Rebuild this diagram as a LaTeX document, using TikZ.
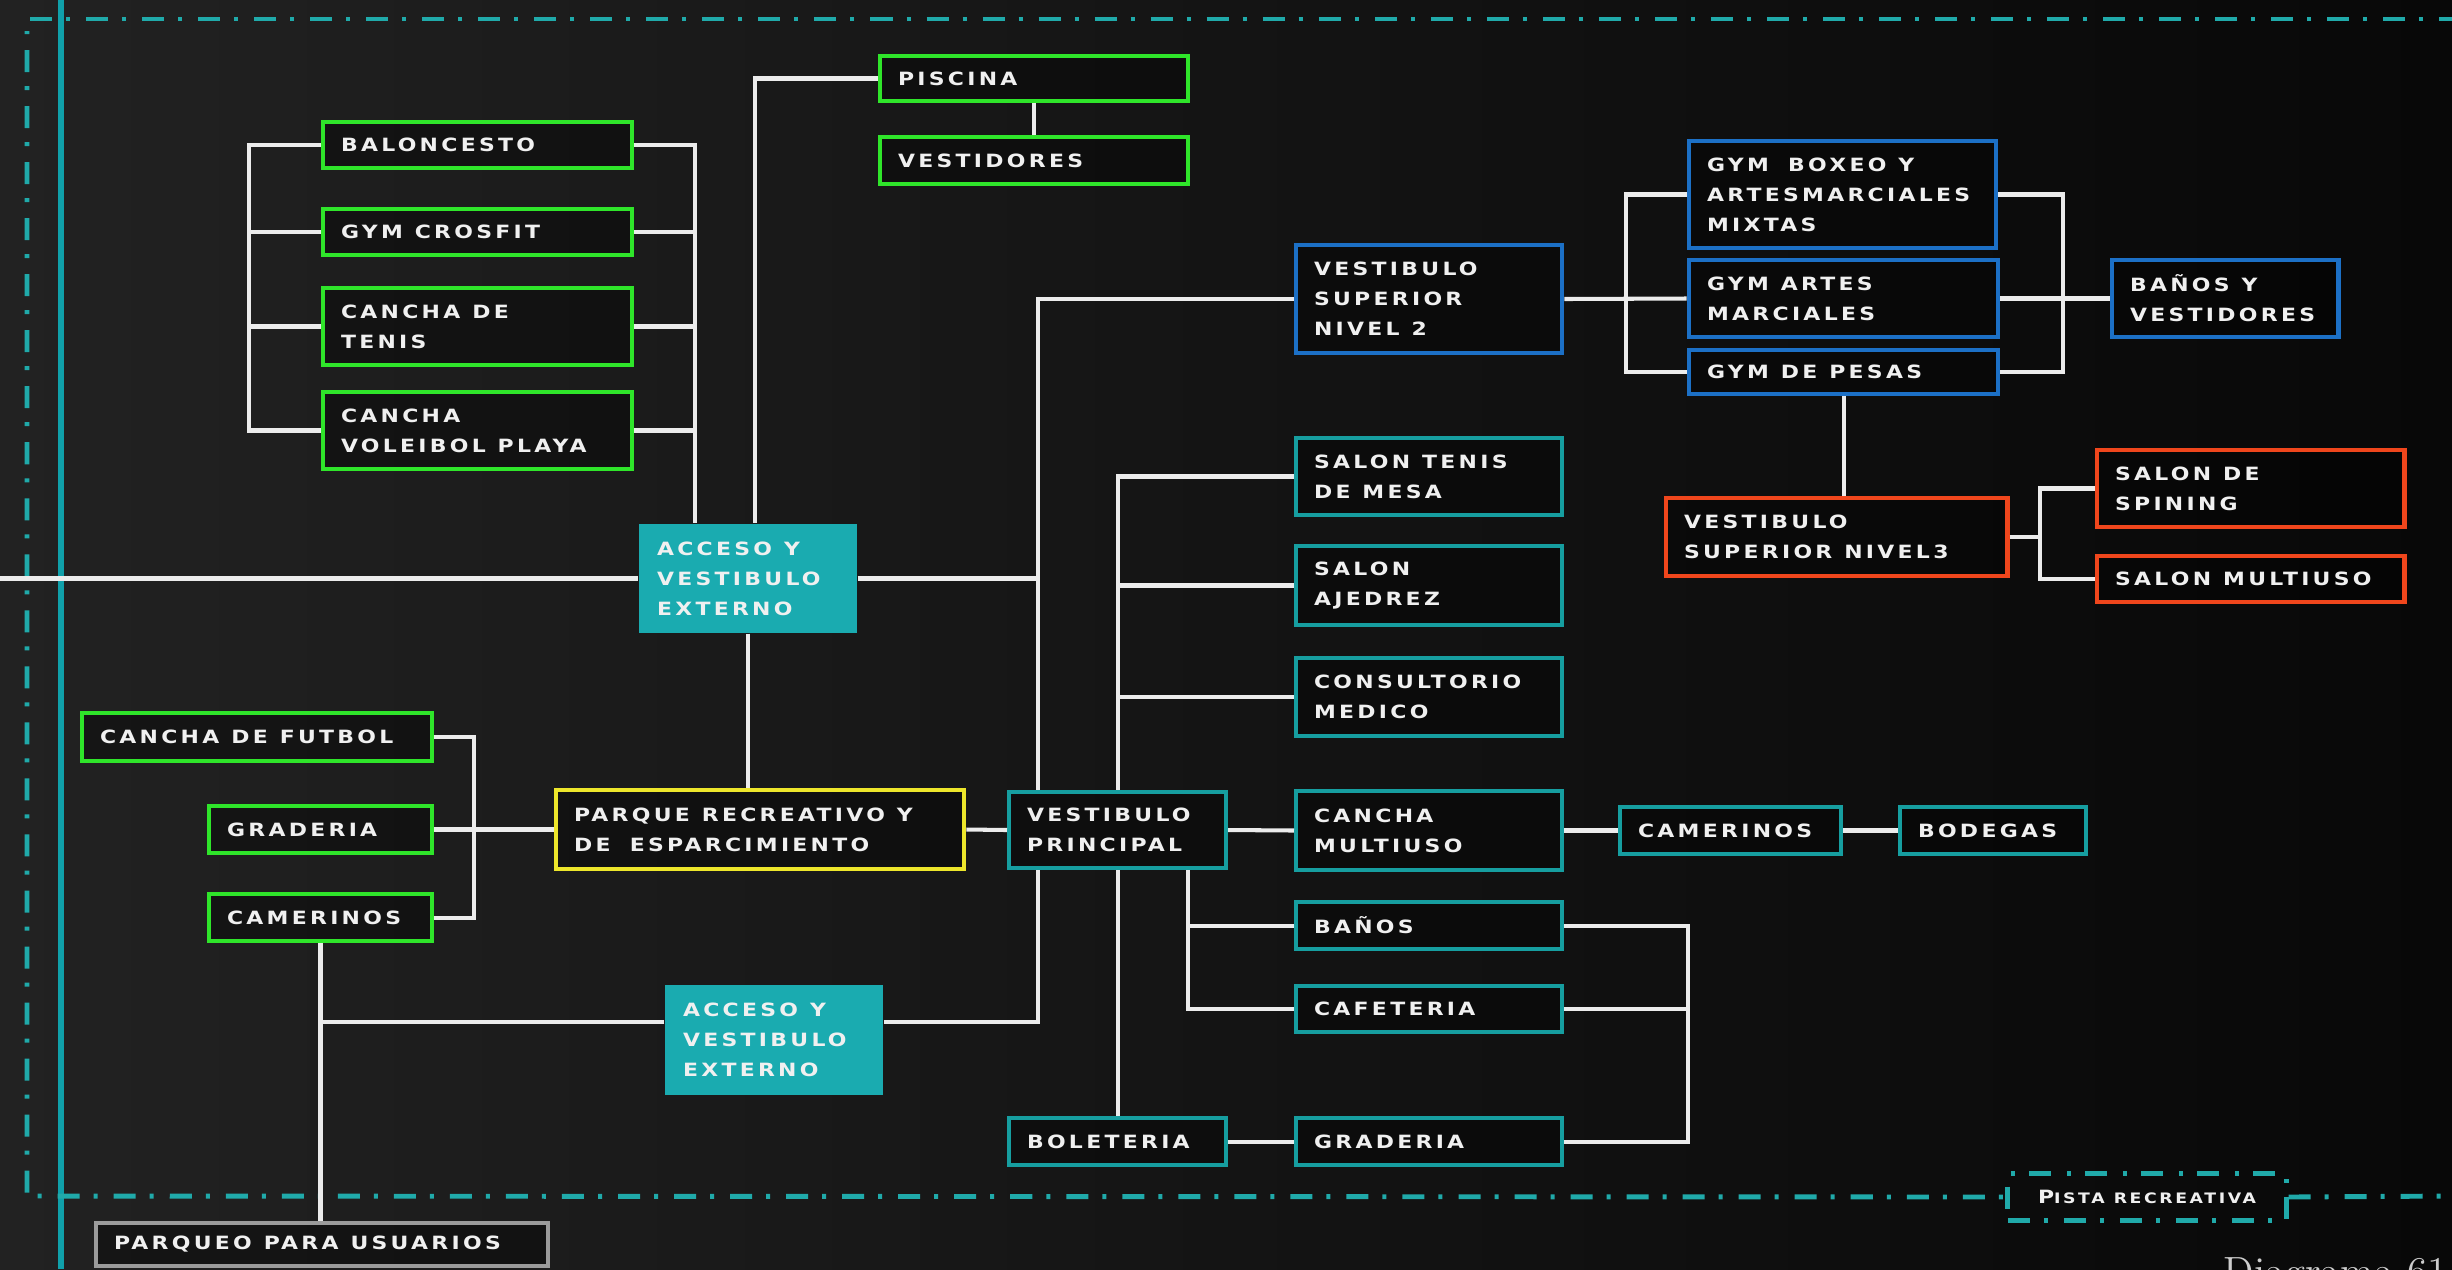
\documentclass[tikz,border=0pt]{standalone}
\usepackage{fontspec}
\newfontfamily\bxfont{DejaVu Sans}[LetterSpace=18,FakeStretch=1.2]
\usetikzlibrary{calc}
\definecolor{cgreen}{RGB}{47,229,42}
\definecolor{cteal}{RGB}{22,158,160}
\definecolor{cfill}{RGB}{26,171,176}
\definecolor{cblue}{RGB}{28,112,198}
\definecolor{corange}{RGB}{240,70,28}
\definecolor{cyellow}{RGB}{237,230,43}
\definecolor{cgray}{RGB}{155,155,155}
\definecolor{cline}{RGB}{236,236,236}
\definecolor{ctext}{RGB}{240,240,240}
\definecolor{cdash}{RGB}{32,170,170}
\definecolor{cvline}{RGB}{16,160,170}
\definecolor{cdiag}{RGB}{205,205,205}
\definecolor{bgl}{RGB}{34,34,34}
\definecolor{bgm}{RGB}{20,20,20}
\definecolor{bgr}{RGB}{8,8,8}
\newcommand\bxsetup{\bxfont\bfseries\fontsize{5.2pt}{8.5pt}\selectfont}
\newcommand\pisetup{\bxfont\bfseries\fontsize{4.1pt}{6pt}\selectfont}
\tikzset{
  boxbase/.style={rectangle, fill=black, fill opacity=0.35, text opacity=1,
    align=left, inner xsep=0.18cm, inner ysep=0pt, text=ctext,
    font=\bxsetup, execute at begin node={\spaceskip=3.4pt\relax}},
  gbox/.style={boxbase, draw=cgreen, line width=1.4pt},
  tbox/.style={boxbase, draw=cteal, line width=1.15pt},
  fbox/.style={boxbase, draw=none, fill=cfill, fill opacity=1},
  bbox/.style={boxbase, draw=cblue, line width=1.4pt},
  obox/.style={boxbase, draw=corange, line width=1.4pt},
  ybox/.style={boxbase, draw=cyellow, line width=1.3pt},
  pbox/.style={boxbase, draw=cgray, line width=1.3pt},
  conn/.style={draw=cline, line width=1.15pt},
  dashdot border/.style={draw=cdash, line width=1.4pt,
    dash pattern=on 0.22cm off 0.14cm on 0.04cm off 0.16cm},
}
\newcommand\mkbox[7]{%
  \pgfmathsetmacro\bxw{(#4-#2-4)*0.01}%
  \pgfmathsetmacro\bxh{(#5-#3-4)*0.01}%
  \pgfmathsetmacro\bxt{(#4-#2-4)*0.01-0.36}%
  \node[#6, minimum width=\bxw cm, minimum height=\bxh cm, text width=\bxt cm]
    (#1) at ({(#2+#4)/2},{(#3+#5)/2}) {#7};}
\begin{document}
\begin{tikzpicture}[x=0.01cm,y=-0.01cm]
\useasboundingbox (0,0) rectangle (2452,1269);
\shade[left color=bgl, right color=bgr, middle color=bgm] (0,0) rectangle (2452,1269);

% frame
\draw[cvline, line width=1.5pt] (61,0) -- (61,1269);

% green cluster
\mkbox{bal}{321}{120}{634}{170}{gbox}{BALONCESTO}
\mkbox{cros}{321}{207}{634}{257}{gbox}{GYM CROSFIT}
\mkbox{ten}{321}{286}{634}{367}{gbox}{CANCHA DE\\TENIS}
\mkbox{vol}{321}{390}{634}{471}{gbox}{CANCHA\\VOLEIBOL PLAYA}
\mkbox{pis}{878}{54}{1190}{103}{gbox}{PISCINA}
\mkbox{vesd}{878}{135}{1190}{186}{gbox}{VESTIDORES}
\mkbox{acc1}{637}{522}{859}{635}{fbox}{ACCESO Y\\VESTIBULO\\EXTERNO}
\mkbox{fut}{80}{711}{434}{763}{gbox}{CANCHA DE FUTBOL}
\mkbox{gra1}{207}{804}{434}{855}{gbox}{GRADERIA}
\mkbox{cam1}{207}{892}{434}{943}{gbox}{CAMERINOS}
\mkbox{park}{554}{788}{966}{871}{ybox}{PARQUE RECREATIVO Y\\DE\hspace{5.5pt}ESPARCIMIENTO}
\mkbox{acc2}{663}{983}{885}{1097}{fbox}{ACCESO Y\\VESTIBULO\\EXTERNO}
\mkbox{parq}{94}{1221}{550}{1268}{pbox}{PARQUEO PARA USUARIOS}
% teal
\mkbox{vp}{1007}{790}{1228}{870}{tbox}{VESTIBULO\\PRINCIPAL}
\mkbox{sal1}{1294}{436}{1564}{517}{tbox}{SALON TENIS\\DE MESA}
\mkbox{sal2}{1294}{544}{1564}{627}{tbox}{SALON\\AJEDREZ}
\mkbox{cons}{1294}{656}{1564}{738}{tbox}{CONSULTORIO\\MEDICO}
\mkbox{cm}{1294}{789}{1564}{872}{tbox}{CANCHA\\MULTIUSO}
\mkbox{cam2}{1618}{805}{1843}{856}{tbox}{CAMERINOS}
\mkbox{bod}{1898}{805}{2088}{856}{tbox}{BODEGAS}
\mkbox{ban}{1294}{900}{1564}{951}{tbox}{BAÑOS}
\mkbox{caf}{1294}{984}{1564}{1034}{tbox}{CAFETERIA}
\mkbox{bol}{1007}{1116}{1228}{1167}{tbox}{BOLETERIA}
\mkbox{gr2}{1294}{1116}{1564}{1167}{tbox}{GRADERIA}
% blue
\mkbox{vsn2}{1294}{243}{1564}{355}{bbox}{VESTIBULO\\SUPERIOR\\NIVEL 2}
\mkbox{boxeo}{1687}{139}{1998}{250}{bbox}{GYM\hspace{5.5pt}BOXEO Y\\ARTESMARCIALES\\MIXTAS}
\mkbox{artes}{1687}{258}{2000}{339}{bbox}{GYM ARTES\\MARCIALES}
\mkbox{pesas}{1687}{348}{2000}{396}{bbox}{GYM DE PESAS}
\mkbox{banv}{2110}{258}{2340}{339}{bbox}{BAÑOS Y\\VESTIDORES}
% orange
\mkbox{niv3}{1664}{496}{2009}{578}{obox}{VESTIBULO\\SUPERIOR NIVEL3}
\mkbox{spin}{2095}{448}{2406}{529}{obox}{SALON DE\\SPINING}
\mkbox{mult}{2095}{554}{2406}{604}{obox}{SALON MULTIUSO}

% pista recreativa
\node[dashdot border, rectangle, minimum width=2.78cm, minimum height=0.47cm, inner sep=0pt,
  text=ctext, font=\pisetup, execute at begin node={\spaceskip=2.6pt\relax}] (pista) at (2147,1197)
  {{\fontsize{5.2pt}{6pt}\selectfont P}ISTA RECREATIVA};

\coordinate (frTR) at (2452,19);
\coordinate (frTL) at (30,19);
\coordinate (frL) at (27,31);
\coordinate (frBL) at (27,1196);
\coordinate (frBR) at (2452,1196);
\draw[dashdot border] (frTL) -- (frTR);
\draw[dashdot border, dash phase=0.37cm] (frL) -- (frBL) -- (pista.west);
\draw[dashdot border] (pista.east) -- (frBR);

\node[anchor=north west, inner sep=0pt, text=cdiag, font=\fontsize{11.6pt}{14pt}\selectfont]
  (diag) at (2223,1257) {Diagrama 61};

% bus coordinates
\coordinate (ledge) at (0,0);
\coordinate (lb) at (249,0);
\coordinate (rb) at (695,0);
\coordinate (pc) at (755,0);
\coordinate (v1) at (1038,0);
\coordinate (v2) at (1118,0);
\coordinate (v3) at (1188,0);
\coordinate (fb) at (474,0);
\coordinate (rb2) at (1688,0);
\coordinate (bl) at (1626,0);
\coordinate (br) at (2063,0);
\coordinate (ob) at (2040,0);

% connectors
\draw[conn] (bal.west) -| (lb |- vol.west) -- (vol.west);
\draw[conn] (cros.west) -- (cros.west -| lb);
\draw[conn] (ten.west) -- (ten.west -| lb);
\draw[conn] (bal.east) -| (rb |- acc1.north);
\draw[conn] (cros.east) -- (cros.east -| rb);
\draw[conn] (ten.east) -- (ten.east -| rb);
\draw[conn] (vol.east) -- (vol.east -| rb);
\draw[conn] (pis.west) -| (pc |- acc1.north);
\draw[conn] (pis.south) -- (vesd.north);
\draw[conn] (ledge |- acc1.west) -- (acc1.west);
\draw[conn] (acc1.east) -- (acc1.east -| v1);
\draw[conn] (vsn2.west) -| (v1 |- vp.north);
\draw[conn] (v1 |- vp.south) |- ([yshift=0.18cm]acc2.east);
\draw[conn] (sal1.west) -| (v2 |- vp.north);
\draw[conn] (sal2.west) -- (sal2.west -| v2);
\draw[conn] (cons.west) -- (cons.west -| v2);
\draw[conn] (v2 |- vp.south) -- (v2 |- bol.north);
\draw[conn] (v3 |- vp.south) |- (caf.west);
\draw[conn] (ban.west) -- (ban.west -| v3);
\draw[conn] (vp.east) -- (cm.west);
\draw[conn] (cm.east) -- (cam2.west);
\draw[conn] (cam2.east) -- (bod.west);
\draw[conn] (park.east) -- (vp.west);
\draw[conn] (acc1.south) -- (acc1.south |- park.north);
\draw[conn] (fut.east) -| (fb |- cam1.east) -- (cam1.east);
\draw[conn] (gra1.east) -- (park.west);
\draw[conn] (cam1.south) -- (cam1.south |- parq.north);
\draw[conn] ([yshift=0.18cm]acc2.west) -- ([yshift=0.18cm]acc2.west -| cam1.south);
\draw[conn] (ban.east) -| (rb2 |- gr2.east) -- (gr2.east);
\draw[conn] (caf.east) -- (caf.east -| rb2);
\draw[conn] (bol.east) -- (gr2.west);
\draw[conn] (boxeo.west) -| (bl |- pesas.west) -- (pesas.west);
\draw[conn] (vsn2.east) -- (artes.west);
\draw[conn] (boxeo.east) -| (br |- pesas.east) -- (pesas.east);
\draw[conn] (artes.east) -- (banv.west);
\draw[conn] (pesas.south) -- (pesas.south |- niv3.north);
\draw[conn] (spin.west) -| (ob |- mult.west) -- (mult.west);
\draw[conn] (niv3.east) -- (niv3.east -| ob);
\end{tikzpicture}
\end{document}
